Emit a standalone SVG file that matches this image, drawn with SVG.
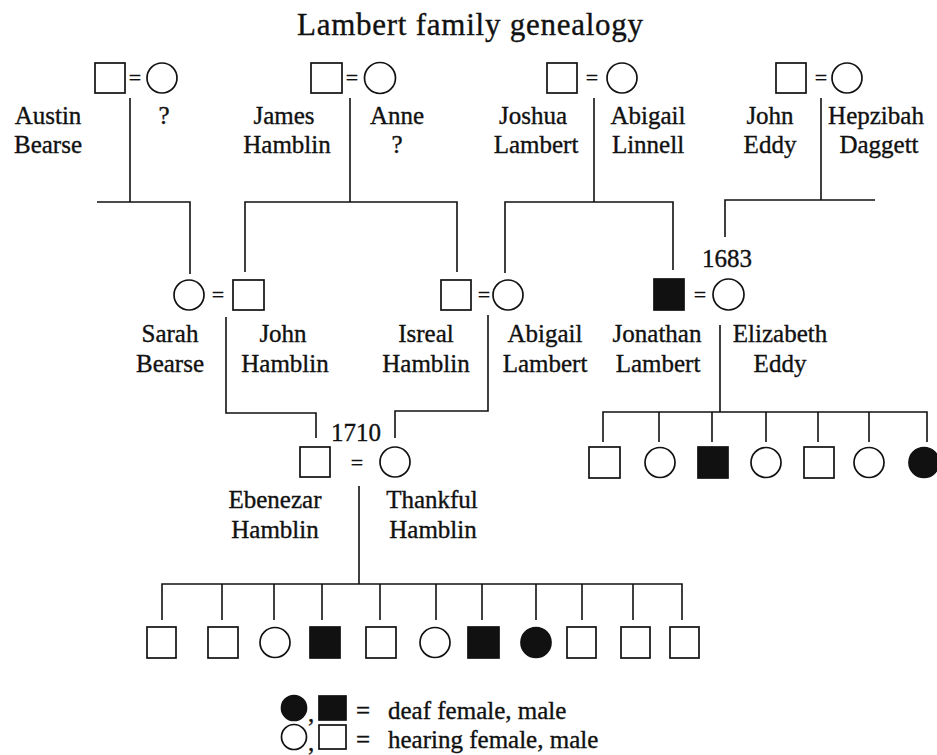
<svg xmlns="http://www.w3.org/2000/svg" width="937" height="755" viewBox="0 0 937 755">
<style>
  .bg{fill:#ffffff}
  .m{fill:none;stroke:#111;stroke-width:1.7}
  .f{fill:none;stroke:#111;stroke-width:1.7}
  .d{fill:#111;stroke:#111;stroke-width:1.7}
  .ln{fill:none;stroke:#111;stroke-width:1.6}
  text{fill:#111;stroke:#111;stroke-width:0.35}
  .nm{font-size:25px;text-anchor:middle}
  .eq{font-size:22px;text-anchor:middle}
  .ttl{font-size:31px;text-anchor:middle}
  .lg{font-size:25px}
</style>
<rect class="bg" x="0" y="0" width="937" height="755"/>
<g font-family="Liberation Serif, DejaVu Serif, serif">
<text class="ttl" x="470" y="35" textLength="346" lengthAdjust="spacing">Lambert family genealogy</text>

<g id="connectors">
  <path class="ln" d="M130 98 V202 M97 202 H190 V274"/>
  <path class="ln" d="M350 98 V202 M245 272 V202 H457 V272"/>
  <path class="ln" d="M594 98 V202 M505 273 V202 H673 V270"/>
  <path class="ln" d="M821 98 V200 M725 237 V200 H875"/>
  <path class="ln" d="M226 317 V413 H316 V438"/>
  <path class="ln" d="M488 315 V411 H395 V438"/>
  <path class="ln" d="M720 325 V412 M603 442 V412 H927 V442 M659 412 V442 M712 412 V442 M766 412 V442 M818 412 V442 M869 412 V442"/>
  <path class="ln" d="M359 486 V584 M162 620 V584 H682 V620 M222 584 V620 M274 584 V620 M322 584 V620 M380 584 V620 M436 584 V620 M482 584 V620 M536 584 V620 M582 584 V620 M633 584 V620"/>
</g>

<g id="austin-bearse">
  <rect class="m" x="95" y="63" width="30" height="30"/>
  <text class="nm" x="48" y="124">Austin</text>
  <text class="nm" x="48" y="153">Bearse</text>
</g>
<text class="eq" x="135" y="85">=</text>
<g id="unknown-wife-bearse">
  <circle class="f" cx="162" cy="78" r="15"/>
  <text class="nm" x="164" y="124">?</text>
</g>

<g id="james-hamblin">
  <rect class="m" x="311" y="63" width="31" height="30"/>
  <text class="nm" x="284" y="124">James</text>
  <text class="nm" x="287" y="153">Hamblin</text>
</g>
<text class="eq" x="352" y="85">=</text>
<g id="anne">
  <circle class="f" cx="380" cy="78" r="15.5"/>
  <text class="nm" x="397" y="124">Anne</text>
  <text class="nm" x="397" y="153">?</text>
</g>

<g id="joshua-lambert">
  <rect class="m" x="547" y="63" width="30" height="30"/>
  <text class="nm" x="533" y="124">Joshua</text>
  <text class="nm" x="536" y="153">Lambert</text>
</g>
<text class="eq" x="592" y="85">=</text>
<g id="abigail-linnell">
  <circle class="f" cx="622" cy="78" r="15"/>
  <text class="nm" x="648" y="124">Abigail</text>
  <text class="nm" x="648" y="153">Linnell</text>
</g>

<g id="john-eddy">
  <rect class="m" x="776" y="63" width="30" height="30"/>
  <text class="nm" x="770" y="124">John</text>
  <text class="nm" x="770" y="153">Eddy</text>
</g>
<text class="eq" x="821" y="85">=</text>
<g id="hepzibah-daggett">
  <circle class="f" cx="847" cy="78" r="15"/>
  <text class="nm" x="876" y="124">Hepzibah</text>
  <text class="nm" x="879" y="153">Daggett</text>
</g>

<g id="sarah-bearse">
  <circle class="f" cx="189" cy="295" r="15"/>
  <text class="nm" x="170" y="342">Sarah</text>
  <text class="nm" x="170" y="372">Bearse</text>
</g>
<text class="eq" x="218" y="302">=</text>
<g id="john-hamblin">
  <rect class="m" x="233" y="280" width="31" height="30"/>
  <text class="nm" x="283" y="342">John</text>
  <text class="nm" x="285" y="372">Hamblin</text>
</g>

<g id="isreal-hamblin">
  <rect class="m" x="441" y="280" width="30" height="30"/>
  <text class="nm" x="426" y="342">Isreal</text>
  <text class="nm" x="426" y="372">Hamblin</text>
</g>
<text class="eq" x="484" y="302">=</text>
<g id="abigail-lambert">
  <circle class="f" cx="508" cy="295" r="15"/>
  <text class="nm" x="545" y="342">Abigail</text>
  <text class="nm" x="545" y="372">Lambert</text>
</g>

<g id="jonathan-lambert">
  <rect class="d" x="654" y="279" width="30" height="31"/>
  <text class="nm" x="657" y="342">Jonathan</text>
  <text class="nm" x="658" y="372">Lambert</text>
</g>
<text class="nm" x="727" y="267">1683</text>
<text class="eq" x="700" y="302">=</text>
<g id="elizabeth-eddy">
  <circle class="f" cx="728.5" cy="294.5" r="15.5"/>
  <text class="nm" x="780" y="342">Elizabeth</text>
  <text class="nm" x="780" y="372">Eddy</text>
</g>

<g id="lambert-children">
  <rect class="m" x="589" y="447" width="31" height="31"/>
  <circle class="f" cx="660" cy="462.5" r="15"/>
  <rect class="d" x="698" y="447" width="30" height="31"/>
  <circle class="f" cx="766" cy="462.5" r="15"/>
  <rect class="m" x="804" y="447" width="30" height="31"/>
  <circle class="f" cx="869" cy="462.5" r="15"/>
  <circle class="d" cx="924" cy="462.5" r="15"/>
</g>

<g id="ebenezar-hamblin">
  <rect class="m" x="300" y="447" width="30" height="30"/>
  <text class="nm" x="275" y="508">Ebenezar</text>
  <text class="nm" x="275" y="538">Hamblin</text>
</g>
<text class="nm" x="356" y="441">1710</text>
<text class="eq" x="357" y="470">=</text>
<g id="thankful-hamblin">
  <circle class="f" cx="395" cy="462" r="15"/>
  <text class="nm" x="432" y="508">Thankful</text>
  <text class="nm" x="433" y="538">Hamblin</text>
</g>

<g id="hamblin-children">
  <rect class="m" x="147" y="627" width="29" height="31"/>
  <rect class="m" x="208" y="627" width="30" height="31"/>
  <circle class="f" cx="275" cy="642.5" r="15"/>
  <rect class="d" x="310" y="627" width="30" height="31"/>
  <rect class="m" x="366" y="627" width="30" height="31"/>
  <circle class="f" cx="435" cy="642.5" r="15"/>
  <rect class="d" x="468" y="627" width="31" height="31"/>
  <circle class="d" cx="536" cy="642.5" r="15"/>
  <rect class="m" x="567" y="627" width="29" height="31"/>
  <rect class="m" x="621" y="627" width="29" height="31"/>
  <rect class="m" x="670" y="627" width="29" height="31"/>
</g>

<g id="legend">
  <circle class="d" cx="294" cy="708" r="12.5"/>
  <text class="lg" x="308" y="722">,</text>
  <rect class="d" x="319" y="696" width="27" height="24"/>
  <text class="lg" x="356" y="719">=</text>
  <text class="lg" x="388" y="719">deaf female, male</text>
  <circle class="f" cx="294" cy="737" r="12.5"/>
  <text class="lg" x="308" y="751">,</text>
  <rect class="m" x="319" y="725" width="27" height="24"/>
  <text class="lg" x="356" y="748">=</text>
  <text class="lg" x="388" y="748">hearing female, male</text>
</g>
</g>
</svg>
